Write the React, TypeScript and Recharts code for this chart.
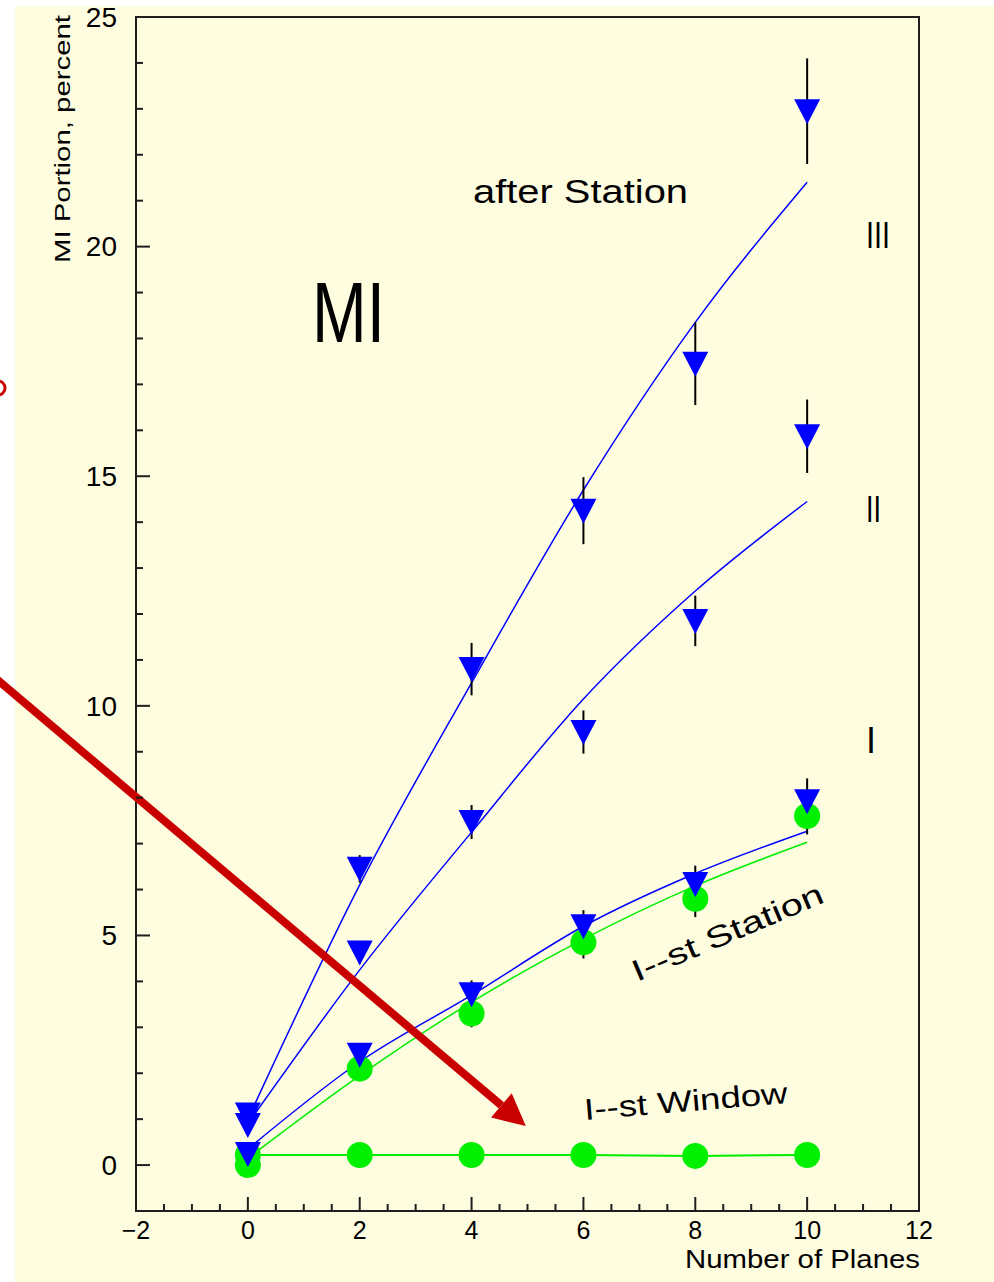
import React from 'react'
import {
  ComposedChart,
  ErrorBar,
  Line,
  ReferenceArea,
  ReferenceLine,
  Scatter,
  XAxis,
  YAxis
} from 'recharts'

// number of planes (x positions of every measurement)
const PLANES = [0, 2, 4, 6, 8, 10]

// "after Station" measurements, three groups (blue triangles)
const AFTER_III = [1.1, 6.45, 10.8, 14.25, 17.45, 22.95]
const AFTER_III_ERR = [0.05, 0.3, 0.57, 0.73, 0.9, 1.15]
const AFTER_II = [0.87, 4.63, 7.47, 9.43, 11.85, 15.87]
const AFTER_II_ERR = [0.05, 0.25, 0.37, 0.47, 0.55, 0.8]
const AFTER_I = [0.24, 2.4, 3.72, 5.2, 6.12, 7.92]
const AFTER_I_ERR = [0.05, 0.25, 0.3, 0.35, 0.4, 0.5]

// "I--st Station" and "I--st Window" (green circles)
const STATION = [0.0, 2.1, 3.3, 4.85, 5.8, 7.6]
const STATION_ERR = [0.05, 0.2, 0.3, 0.35, 0.4, 0.4]
const WINDOW = [0.22, 0.22, 0.22, 0.22, 0.2, 0.22]

// fitted curves
const FIT_III = [1.0, 6.1, 10.5, 14.7, 18.35, 21.4]
const FIT_II = [0.9, 4.25, 7.25, 10.15, 12.5, 14.45]
const FIT_I = [0.35, 2.25, 3.7, 5.2, 6.35, 7.27]
const FIT_STATION = [0.15, 1.95, 3.55, 4.92, 6.08, 7.03]

const X_MAJOR = [-2, 0, 2, 4, 6, 8, 10, 12]
const Y_MAJOR = [0, 5, 10, 15, 20, 25]

// arrow annotation, in data units
const ARROW = [
  { x: -4.6, y: 10.69 },
  { x: 4.97, y: 0.85 }
]

const BLUE = '#0000ff'
const GREEN = '#00ee00'
const AXIS = '#1e1e1e'
const RED = '#c80000'
const BG = '#fffde0'
const FONT = '"Liberation Sans", Arial, sans-serif'

const pts = (ys: number[], errs?: number[]) =>
  PLANES.map((x, i) => ({ x, y: ys[i], err: errs ? errs[i] : 0 }))

// minor ticks: every 0.5 on x, every 1 on y
const xTicks: number[] = []
for (let v = -2; v <= 12; v += 0.5) xTicks.push(v)
const yTicks: number[] = []
for (let v = 0; v <= 25; v += 1) yTicks.push(v)

function XTick(props: any) {
  const { x, y, payload } = props
  const v = payload.value
  const major = X_MAJOR.includes(v)
  return (
    <g>
      <line x1={x} x2={x} y1={y} y2={y - (major ? 14 : 7)} stroke={AXIS} strokeWidth={2} />
      {major && (
        <text x={x} y={y + 28} textAnchor="middle" fontSize={25} fontFamily={FONT} fill="#000">
          {v < 0 ? `\u2212${Math.abs(v)}` : v}
        </text>
      )}
    </g>
  )
}

function YTick(props: any) {
  const { x, y, payload } = props
  const v = payload.value
  const major = Y_MAJOR.includes(v)
  return (
    <g>
      <line x1={x} x2={x + (major ? 14 : 7)} y1={y} y2={y} stroke={AXIS} strokeWidth={2} />
      {major && (
        <text
          x={x - 19}
          y={y}
          dy="0.35em"
          textAnchor="end"
          fontSize={28}
          fontFamily={FONT}
          fill="#000"
        >
          {v}
        </text>
      )}
    </g>
  )
}

function TriangleDown(props: any) {
  const { cx, cy } = props
  if (cx == null || cy == null) return <g />
  return <polygon points={`${cx - 13},${cy - 12} ${cx + 13},${cy - 12} ${cx},${cy + 13}`} fill={BLUE} />
}

function Dot(props: any) {
  const { cx, cy } = props
  if (cx == null || cy == null) return <g />
  return <circle cx={cx} cy={cy} r={13} fill="#00f000" />
}

const Nothing = () => <g />

function ArrowShape(props: any) {
  const { x1, y1, x2, y2 } = props
  const ang = Math.atan2(y2 - y1, x2 - x1)
  const headLen = 32
  const headHalf = 16
  const bx = x2 - headLen * Math.cos(ang)
  const by = y2 - headLen * Math.sin(ang)
  const px = -Math.sin(ang) * headHalf
  const py = Math.cos(ang) * headHalf
  return (
    <g>
      <line x1={x1} y1={y1} x2={bx} y2={by} stroke={RED} strokeWidth={8} />
      <polygon points={`${x2},${y2} ${bx + px},${by + py} ${bx - px},${by - py}`} fill={RED} />
    </g>
  )
}

const errSeries = [
  pts(AFTER_III, AFTER_III_ERR),
  pts(AFTER_II, AFTER_II_ERR),
  pts(AFTER_I, AFTER_I_ERR),
  pts(STATION, STATION_ERR)
]

export default function App() {
  return (
    <div style={{ position: 'absolute', left: 0, top: 0, width: 994, height: 1282, background: '#fff' }}>
      <div style={{ position: 'absolute', left: 15, top: 6, right: 0, bottom: 0, background: BG }} />
      <div style={{ position: 'absolute', left: 0, top: 0 }}>
        <ComposedChart width={994} height={1282} margin={{ top: 17, right: 75, bottom: 21, left: 76 }}>
          <XAxis
            dataKey="x"
            type="number"
            domain={[-2, 12]}
            ticks={xTicks}
            interval={0}
            allowDataOverflow
            axisLine={false}
            tickLine={false}
            tickSize={0}
            tickMargin={0}
            height={50}
            tick={(p: any) => <XTick {...p} />}
          />
          <YAxis
            dataKey="y"
            type="number"
            domain={[-1, 25]}
            ticks={yTicks}
            interval={0}
            allowDataOverflow
            axisLine={false}
            tickLine={false}
            tickSize={0}
            tickMargin={0}
            width={60}
            tick={(p: any) => <YTick {...p} />}
          />
          <ReferenceArea
            x1={-2}
            x2={12}
            y1={-1}
            y2={25}
            ifOverflow="visible"
            fill="none"
            fillOpacity={0}
            stroke={AXIS}
            strokeWidth={2}
          />

          <Line data={pts(FIT_STATION)} dataKey="y" type="monotone" stroke={GREEN} strokeWidth={1.5} dot={false} activeDot={false} isAnimationActive={false} />
          <Line data={pts(WINDOW)} dataKey="y" type="linear" stroke={GREEN} strokeWidth={2} dot={false} activeDot={false} isAnimationActive={false} />
          <Line data={pts(FIT_III)} dataKey="y" type="monotone" stroke={BLUE} strokeWidth={1.5} dot={false} activeDot={false} isAnimationActive={false} />
          <Line data={pts(FIT_II)} dataKey="y" type="monotone" stroke={BLUE} strokeWidth={1.5} dot={false} activeDot={false} isAnimationActive={false} />
          <Line data={pts(FIT_I)} dataKey="y" type="monotone" stroke={BLUE} strokeWidth={1.5} dot={false} activeDot={false} isAnimationActive={false} />

          <Scatter data={pts(WINDOW)} dataKey="y" shape={Dot} isAnimationActive={false} />
          <Scatter data={pts(STATION)} dataKey="y" shape={Dot} isAnimationActive={false} />
          <Scatter data={pts(AFTER_III)} dataKey="y" shape={TriangleDown} isAnimationActive={false} />
          <Scatter data={pts(AFTER_II)} dataKey="y" shape={TriangleDown} isAnimationActive={false} />
          <Scatter data={pts(AFTER_I)} dataKey="y" shape={TriangleDown} isAnimationActive={false} />

          {errSeries.map((d, i) => (
            <Scatter key={i} data={d} dataKey="y" shape={Nothing} isAnimationActive={false}>
              <ErrorBar dataKey="err" direction="y" width={0} stroke="#000" strokeWidth={2} isAnimationActive={false} />
            </Scatter>
          ))}

          <ReferenceLine segment={ARROW} ifOverflow="visible" shape={ArrowShape} />
        </ComposedChart>
      </div>

      <svg
        width={994}
        height={1282}
        style={{ position: 'absolute', left: 0, top: 0, pointerEvents: 'none' }}
        fontFamily={FONT}
      >
        {/* fragment of a red mark cut by the left edge */}
        <circle cx={-2} cy={388} r={7} fill="none" stroke={RED} strokeWidth={3} />
        <text
          x={70}
          y={139}
          fontSize={22}
          textAnchor="middle"
          transform="rotate(-90 70 139)"
          textLength={248}
          lengthAdjust="spacingAndGlyphs"
        >
          MI Portion, percent
        </text>
        <text x={473} y={203} fontSize={34} textLength={215} lengthAdjust="spacingAndGlyphs">after Station</text>
        <text x={312} y={342} fontSize={86} textLength={73} lengthAdjust="spacingAndGlyphs">
          MI
        </text>
        <text x={866} y={248} fontSize={36} textLength={24} lengthAdjust="spacingAndGlyphs">III</text>
        <text x={866} y={522} fontSize={36} textLength={15} lengthAdjust="spacingAndGlyphs">II</text>
        <text x={866} y={753} fontSize={36}>I</text>
        <text
          x={637}
          y={982}
          fontSize={30}
          transform="rotate(-23 637 982)"
          textLength={205}
          lengthAdjust="spacingAndGlyphs"
        >
          I--st Station
        </text>
        <text
          x={585}
          y={1120}
          fontSize={30}
          transform="rotate(-4.8 585 1120)"
          textLength={204}
          lengthAdjust="spacingAndGlyphs"
        >
          I--st Window
        </text>
        <text x={685} y={1268} fontSize={26} textLength={235} lengthAdjust="spacingAndGlyphs">
          Number of Planes
        </text>
      </svg>
    </div>
  )
}
